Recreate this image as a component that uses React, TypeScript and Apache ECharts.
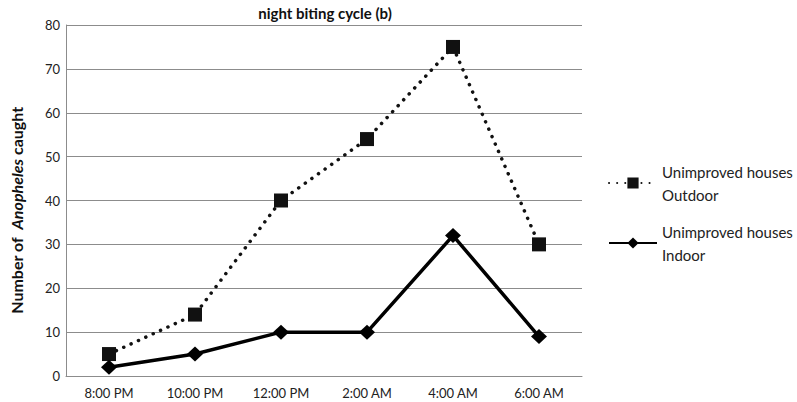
import React, { useEffect, useRef } from "react";
import * as echarts from "echarts";

const categories = ["8:00 PM", "10:00 PM", "12:00 PM", "2:00 AM", "4:00 AM", "6:00 AM"];
const outdoor = [5, 14, 40, 54, 75, 30];
const indoor = [2, 5, 10, 10, 32, 9];
const seriesNames = ["Unimproved houses\nOutdoor", "Unimproved houses\nIndoor"];

const FONT = "Lato, 'Open Sans', sans-serif";

export default function App() {
  const ref = useRef<HTMLDivElement>(null);
  useEffect(() => {
    if (!ref.current) return;
    const chart = echarts.init(ref.current, null, { renderer: "svg" });
    chart.setOption({
      animation: false,
      textStyle: { fontFamily: FONT },
      title: {
        text: "night biting cycle (b)",
        left: 320,
        textAlign: "center",
        top: 0,
        textStyle: { fontSize: 15, fontWeight: "bold", color: "#111", fontFamily: FONT },
      },
      grid: { left: 58, right: 215, top: 25, bottom: 26, containLabel: false },
      legend: {
        orient: "vertical",
        left: 603,
        top: 155,
        itemGap: 14,
        itemWidth: 48,
        itemHeight: 14,
        textStyle: { fontSize: 15, color: "#222", fontFamily: FONT, lineHeight: 23 },
        data: seriesNames,
      },
      xAxis: {
        type: "category",
        data: categories,
        boundaryGap: true,
        axisLine: { lineStyle: { color: "#8c8c8c", width: 1 } },
        axisTick: { show: false },
        axisLabel: { color: "#222", fontSize: 13, margin: 10, fontFamily: FONT },
      },
      yAxis: {
        type: "value",
        min: 0,
        max: 80,
        interval: 10,
        name: "{n|Number of  }{i|Anopheles}{n| caught}",
        nameLocation: "middle",
        nameGap: 42,
        nameRotate: 90,
        nameTextStyle: {
          padding: [0, 20, 0, 0],
          rich: {
            n: { fontSize: 16, fontWeight: "bold", color: "#111", fontFamily: FONT },
            i: { fontSize: 16, fontWeight: "bold", fontStyle: "italic", color: "#111", fontFamily: FONT },
          },
        },
        axisLine: { show: true, lineStyle: { color: "#8c8c8c", width: 1 } },
        axisTick: { show: false },
        splitLine: { lineStyle: { color: "#8c8c8c", width: 1 } },
        axisLabel: { color: "#222", fontSize: 13, margin: 6, fontFamily: FONT },
      },
      series: [
        {
          name: seriesNames[0],
          type: "line",
          data: outdoor,
          symbol: "rect",
          symbolSize: 14,
          itemStyle: { color: "#111" },
          lineStyle: { color: "#111", width: 3.5, type: [0.1, 8], cap: "round" },
        },
        {
          name: seriesNames[1],
          type: "line",
          data: indoor,
          symbol: "diamond",
          symbolSize: [16, 15],
          itemStyle: { color: "#000" },
          lineStyle: { color: "#000", width: 3.5 },
        },
      ],
    });
    return () => chart.dispose();
  }, []);
  return <div ref={ref} style={{ width: 797, height: 402, position: "absolute", left: 0, top: 0, background: "#fff" }} />;
}
